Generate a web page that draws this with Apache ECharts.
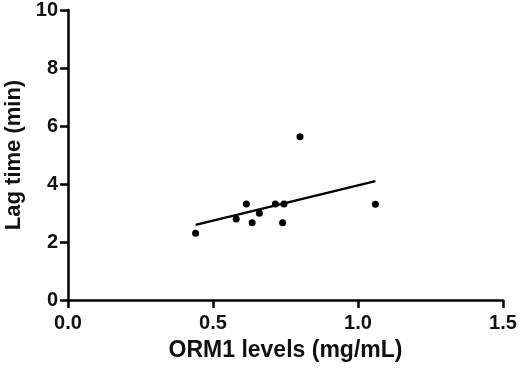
<!DOCTYPE html>
<html>
<head>
<meta charset="utf-8">
<script src="https://cdn.jsdelivr.net/npm/echarts@6/dist/echarts.min.js"></script>
<style>
html, body { margin: 0; padding: 0; background: #fff; }
#main { width: 520px; height: 371px; }
</style>
</head>
<body>
<div id="main"></div>
<script>
// ORM1 levels (mg/mL) vs lag time (min)
var ormLevels = [0.44, 0.58, 0.615, 0.635, 0.66, 0.715, 0.745, 0.74, 0.80, 1.06];
var lagTimes = [2.30, 2.79, 3.31, 2.66, 2.99, 3.31, 3.31, 2.66, 5.63, 3.30];
// regression line end points
var fitX = [0.44, 1.06];
var fitY = [2.59, 4.10];

var points = ormLevels.map(function (x, i) { return [x, lagTimes[i]]; });
var fitLine = fitX.map(function (x, i) { return [x, fitY[i]]; });

var chart = echarts.init(document.getElementById('main'));
var font = 'Liberation Sans, Arial, sans-serif';

var option = {
    animation: false,
    backgroundColor: '#fff',
    grid: { left: 68, right: 17, top: 10, bottom: 71, outerBoundsMode: 'none', containLabel: false },
    xAxis: {
        type: 'value',
        min: 0, max: 1.5, interval: 0.5,
        name: 'ORM1 levels (mg/mL)',
        nameLocation: 'middle',
        nameGap: 39,
        nameTextStyle: { color: '#111', fontSize: 23, fontWeight: 'bold', fontFamily: font },
        axisLine: { lineStyle: { color: '#000', width: 2.5 } },
        axisTick: { length: 8, lineStyle: { color: '#000', width: 2.5 } },
        axisLabel: {
            color: '#111', fontSize: 20, fontWeight: 'bold', fontFamily: font, margin: 13,
            formatter: function (v) { return v.toFixed(1); }
        },
        splitLine: { show: false }
    },
    yAxis: {
        type: 'value',
        min: 0, max: 10, interval: 2,
        name: 'Lag time (min)',
        nameLocation: 'middle',
        nameGap: 40,
        nameTextStyle: { color: '#111', fontSize: 22, fontWeight: 'bold', fontFamily: font },
        axisLine: { show: true, lineStyle: { color: '#000', width: 2.5 } },
        axisTick: { show: true, length: 8, lineStyle: { color: '#000', width: 2.5 } },
        axisLabel: { color: '#111', fontSize: 20, fontWeight: 'bold', fontFamily: font, margin: 10 },
        splitLine: { show: false }
    },
    series: [
        {
            type: 'scatter',
            data: points,
            symbol: 'circle',
            symbolSize: 7,
            itemStyle: { color: '#000', opacity: 1 }
        },
        {
            type: 'line',
            data: fitLine,
            symbol: 'none',
            lineStyle: { color: '#000', width: 2.5 }
        }
    ]
};
chart.setOption(option);
</script>
</body>
</html>
